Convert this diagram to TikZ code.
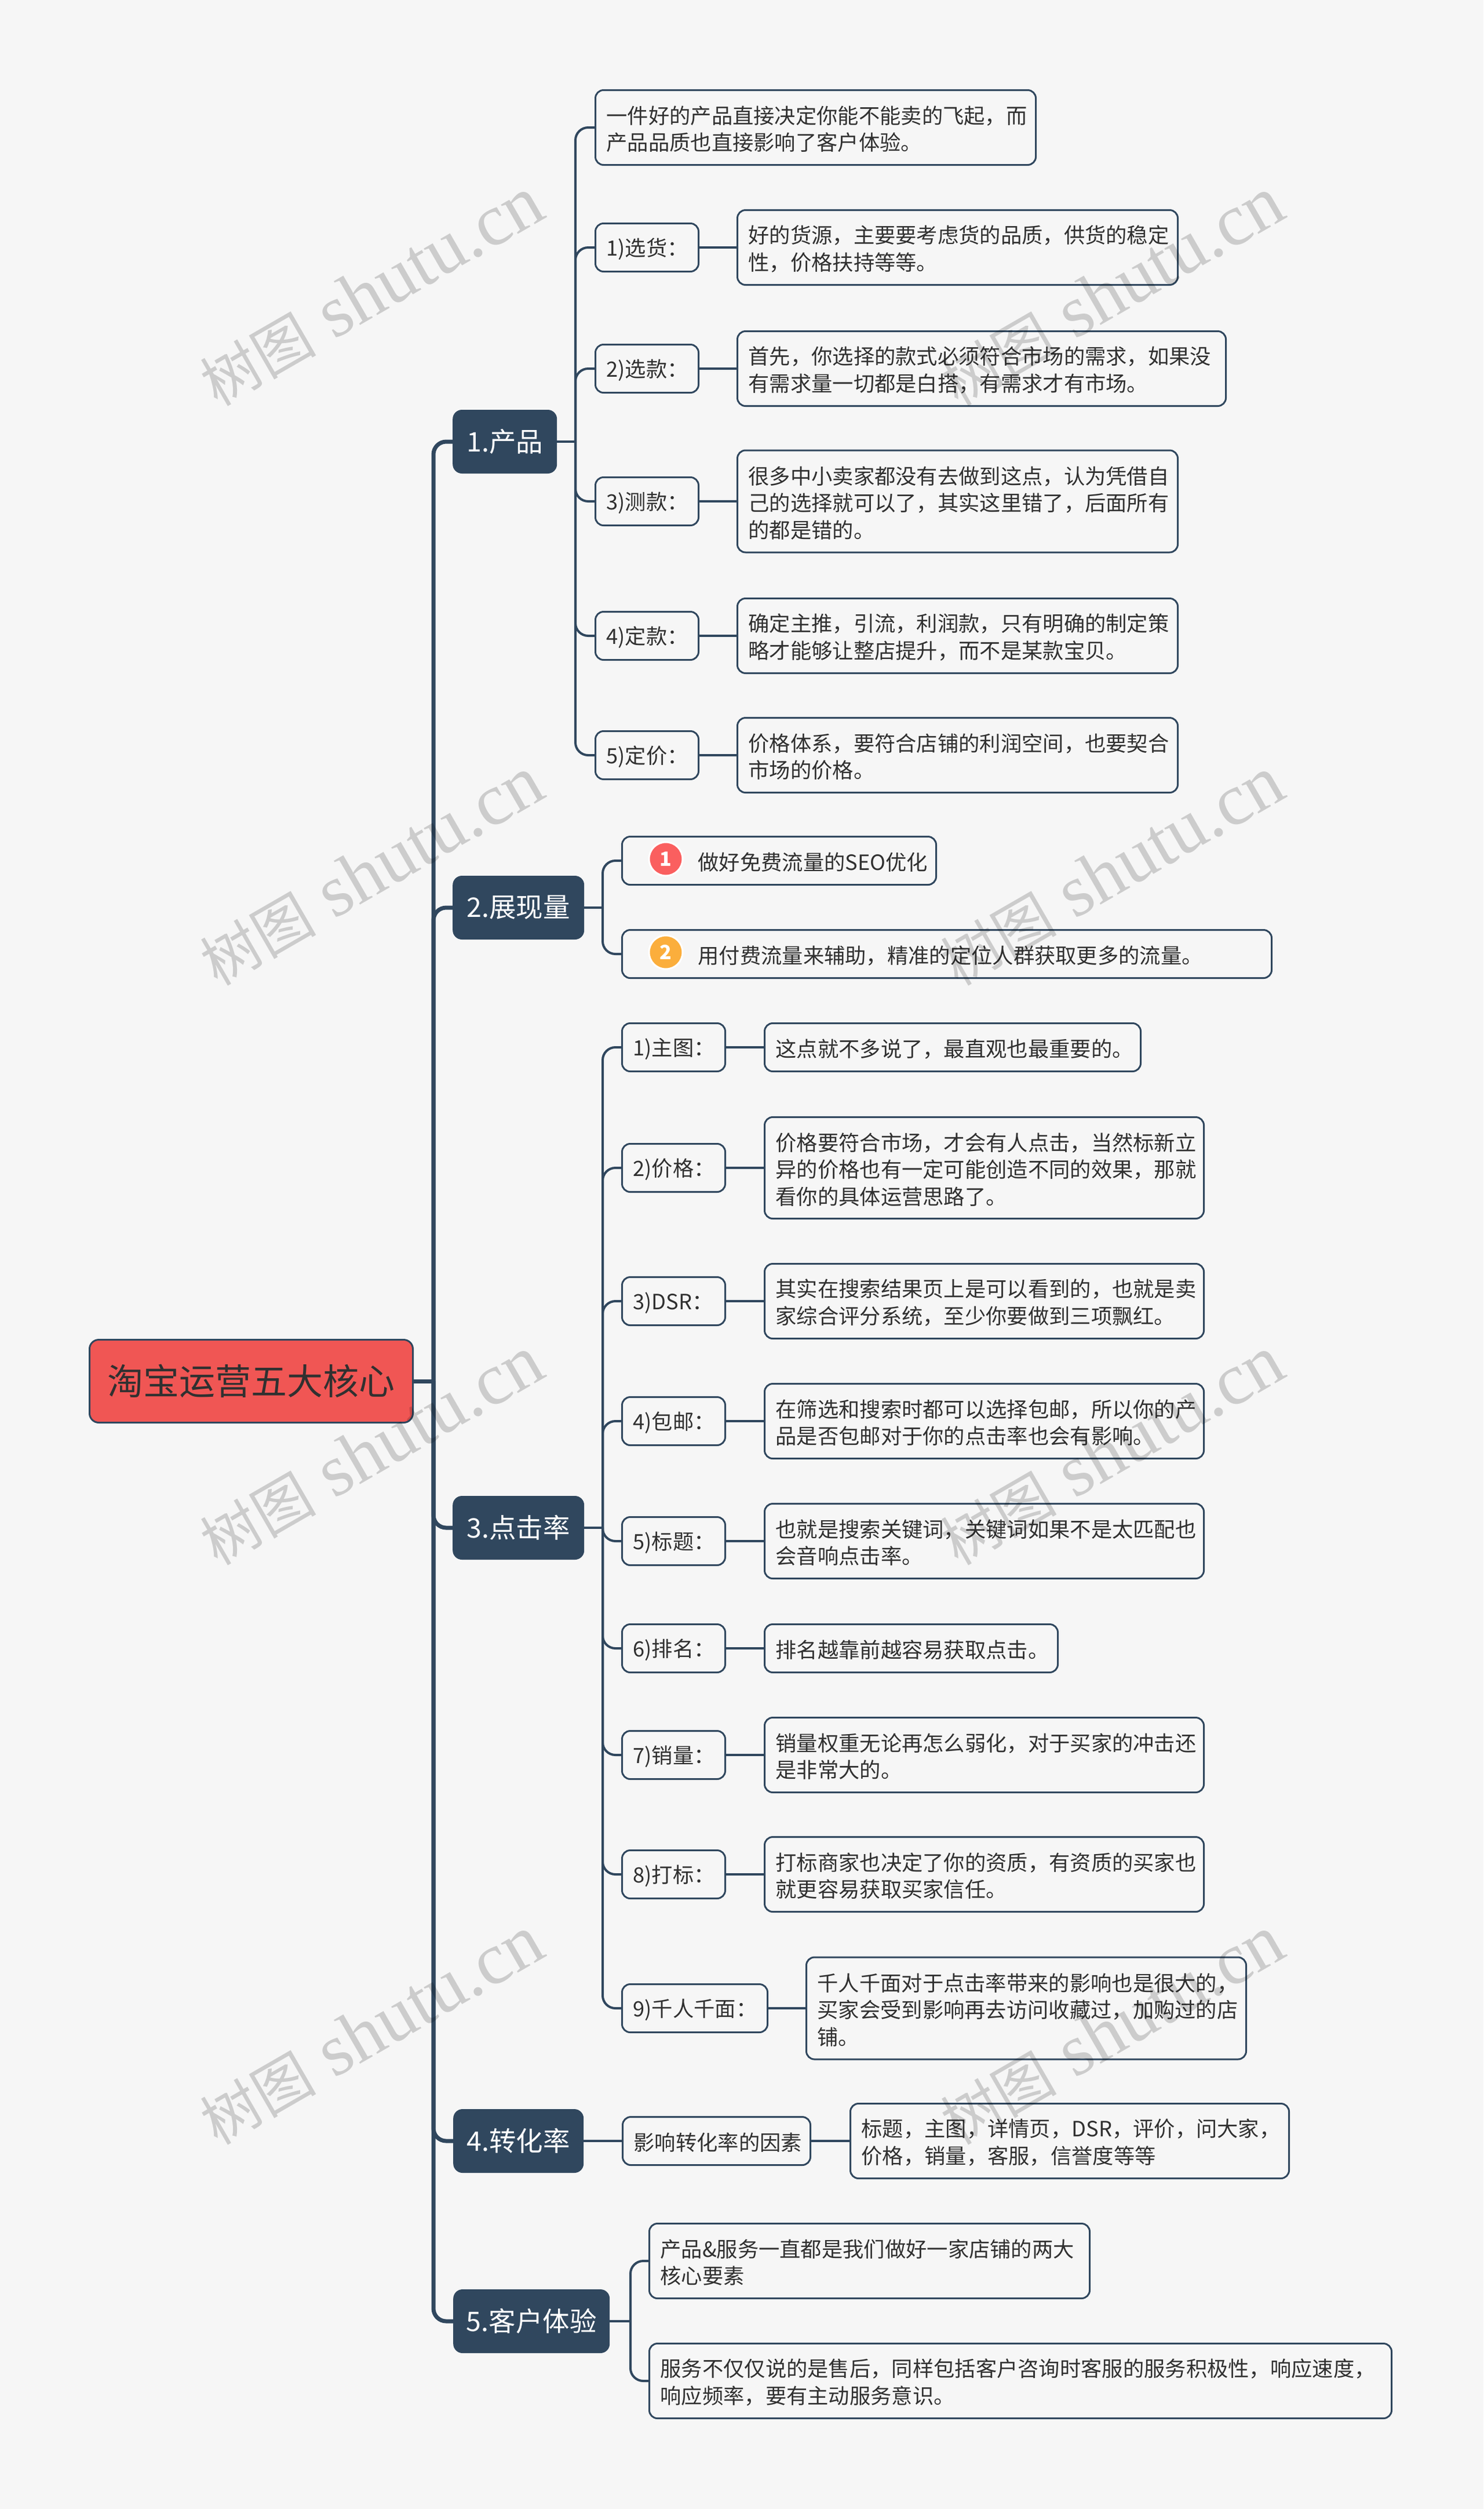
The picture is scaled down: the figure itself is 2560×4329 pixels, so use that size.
\documentclass[tikz,border=0pt]{standalone}
\usepackage{fontspec}
\setmainfont{Noto Sans CJK SC}
\newfontfamily\marklatin{Liberation Serif}
\definecolor{pagebg}{HTML}{F6F6F6}
\definecolor{navy}{HTML}{30475E}
\definecolor{rootred}{HTML}{F05654}
\definecolor{inkgray}{HTML}{303030}
\definecolor{iconred}{HTML}{FA5F5F}
\definecolor{iconorange}{HTML}{FBAE3C}
\tikzset{
	rootbox/.style={draw=navy,line width=3pt,fill=rootred,text=inkgray,rounded corners=16pt,anchor=west,
			inner sep=0pt,minimum width=558pt,minimum height=143pt,font=\fontsize{62pt}{70pt}\selectfont},
	topicbox/.style={fill=navy,text=white,rounded corners=16pt,anchor=west,inner sep=0pt,
			minimum width=#1,minimum height=110pt,font=\fontsize{46.5pt}{54pt}\selectfont},
	leafbox/.style 2 args={draw=navy,line width=3pt,fill=pagebg,text=inkgray,rounded corners=14pt,anchor=west,
			inner xsep=19pt,inner ysep=0pt,text width=#1,minimum height=#2,align=left,
			execute at begin node={\rule{0pt}{36pt}},
			font=\fontsize{36.3pt}{46.5pt}\selectfont},
	iconball/.style={circle,draw=white,line width=3pt,text=white,inner sep=0pt,minimum size=58pt,
			font=\bfseries\fontsize{34pt}{36pt}\selectfont},
	trunk/.style={draw=navy,line width=7pt,rounded corners=22pt},
	twig/.style={draw=navy,line width=4pt,rounded corners=22pt},
	markbox/.style={text=black,opacity=0.167,rotate=30,inner sep=0pt,anchor=base}
}
\begin{document}
\begin{tikzpicture}[x=1pt,y=-1pt]
		\fill[pagebg] (0,0) rectangle (2560,4329);
		\useasboundingbox (0,0) rectangle (2560,4329);

		\node[rootbox] (root) at (153,2383) {淘宝运营五大核心};
		\node[topicbox=180pt] (chan) at (781,762) {1.产品};
		\node[topicbox=227pt] (zhan) at (781,1566) {2.展现量};
		\node[topicbox=227pt] (dian) at (781,2636) {3.点击率};
		\node[topicbox=225pt] (zhuan) at (782,3694) {4.转化率};
		\node[topicbox=270pt] (ke) at (782,4005) {5.客户体验};

		\node[leafbox={722pt}{129pt}] (chan0) at (1026,220) {一件好的产品直接决定你能不能卖的飞起，而\\产品品质也直接影响了客户体验。};
		\node[leafbox={140pt}{83pt}] (chan1) at (1026,427) {1)选货：};
		\node[leafbox={140pt}{83pt}] (chan2) at (1026,636) {2)选款：};
		\node[leafbox={140pt}{83pt}] (chan3) at (1026,865) {3)测款：};
		\node[leafbox={140pt}{83pt}] (chan4) at (1026,1097) {4)定款：};
		\node[leafbox={140pt}{83pt}] (chan5) at (1026,1303) {5)定价：};
		\node[leafbox={722pt}{129pt}] (chan1a) at (1271,427) {好的货源，主要要考虑货的品质，供货的稳定\\性，价格扶持等等。};
		\node[leafbox={805pt}{129pt}] (chan2a) at (1271,636) {首先，你选择的款式必须符合市场的需求，如果没\\有需求量一切都是白搭，有需求才有市场。};
		\node[leafbox={722pt}{176pt}] (chan3a) at (1271,865) {很多中小卖家都没有去做到这点，认为凭借自\\己的选择就可以了，其实这里错了，后面所有\\的都是错的。};
		\node[leafbox={722pt}{129pt}] (chan4a) at (1271,1097) {确定主推，引流，利润款，只有明确的制定策\\略才能够让整店提升，而不是某款宝贝。};
		\node[leafbox={722pt}{129pt}] (chan5a) at (1271,1303) {价格体系，要符合店铺的利润空间，也要契合\\市场的价格。};

		\node[leafbox={504pt}{83pt}] (zhan1) at (1072,1485) {\hspace*{112pt}做好免费流量的SEO优化};
		\node[leafbox={1083pt}{83pt}] (zhan2) at (1072,1646) {\hspace*{112pt}用付费流量来辅助，精准的定位人群获取更多的流量。};
		\node[iconball,fill=iconred] (ball1) at (1149,1482) {1};
		\node[iconball,fill=iconorange] (ball2) at (1149,1643) {2};

		\node[leafbox={140pt}{83pt}] (dian1) at (1072,1807) {1)主图：};
		\node[leafbox={140pt}{83pt}] (dian2) at (1072,2015) {2)价格：};
		\node[leafbox={140pt}{83pt}] (dian3) at (1072,2245) {3)DSR：};
		\node[leafbox={140pt}{83pt}] (dian4) at (1072,2452) {4)包邮：};
		\node[leafbox={140pt}{83pt}] (dian5) at (1072,2659) {5)标题：};
		\node[leafbox={140pt}{83pt}] (dian6) at (1072,2844) {6)排名：};
		\node[leafbox={140pt}{83pt}] (dian7) at (1072,3028) {7)销量：};
		\node[leafbox={140pt}{83pt}] (dian8) at (1072,3234) {8)打标：};
		\node[leafbox={213pt}{83pt}] (dian9) at (1072,3465) {9)千人千面：};
		\node[leafbox={611pt}{83pt}] (dian1a) at (1318,1807) {这点就不多说了，最直观也最重要的。};
		\node[leafbox={720pt}{175pt}] (dian2a) at (1318,2015) {价格要符合市场，才会有人点击，当然标新立\\异的价格也有一定可能创造不同的效果，那就\\看你的具体运营思路了。};
		\node[leafbox={720pt}{129pt}] (dian3a) at (1318,2245) {其实在搜索结果页上是可以看到的，也就是卖\\家综合评分系统，至少你要做到三项飘红。};
		\node[leafbox={720pt}{129pt}] (dian4a) at (1318,2452) {在筛选和搜索时都可以选择包邮，所以你的产\\品是否包邮对于你的点击率也会有影响。};
		\node[leafbox={720pt}{129pt}] (dian5a) at (1318,2659) {也就是搜索关键词，关键词如果不是太匹配也\\会音响点击率。};
		\node[leafbox={468pt}{83pt}] (dian6a) at (1318,2844) {排名越靠前越容易获取点击。};
		\node[leafbox={720pt}{129pt}] (dian7a) at (1318,3028) {销量权重无论再怎么弱化，对于买家的冲击还\\是非常大的。};
		\node[leafbox={720pt}{129pt}] (dian8a) at (1318,3234) {打标商家也决定了你的资质，有资质的买家也\\就更容易获取买家信任。};
		\node[leafbox={721pt}{176pt}] (dian9a) at (1390,3465) {千人千面对于点击率带来的影响也是很大的，\\买家会受到影响再去访问收藏过，加购过的店\\铺。};

		\node[leafbox={286pt}{83pt}] (zhuan1) at (1073,3694) {影响转化率的因素};
		\node[leafbox={719pt}{129pt}] (zhuan1a) at (1466,3694) {标题，主图，详情页，DSR，评价，问大家，\\价格，销量，客服，信誉度等等};

		\node[leafbox={722pt}{129pt}] (ke1) at (1119,3901) {产品\&服务一直都是我们做好一家店铺的两大\\核心要素};
		\node[leafbox={1243pt}{129pt}] (ke2) at (1119,4108) {服务不仅仅说的是售后，同样包括客户咨询时客服的服务积极性，响应速度，\\响应频率，要有主动服务意识。};

		\coordinate (spine) at (748,2383);
		\coordinate (chanfork) at (993,762);
		\coordinate (zhanfork) at (1040,1566);
		\coordinate (dianfork) at (1040,2636);
		\coordinate (kefork) at (1088,4005);

		\draw[trunk] (root.east) -- (spine);
		\draw[twig] (chan.east) -- (chanfork);
		\draw[twig] (zhan.east) -- (zhanfork);
		\draw[twig] (dian.east) -- (dianfork);
		\draw[twig] (ke.east) -- (kefork);
		\draw[twig] (zhuan.east) -- (zhuan1.west);
		\foreach \topic in {chan,zhan,dian,zhuan,ke}
		\draw[trunk] (spine) |- (\topic.west);
		\foreach \leaf in {chan0,chan1,chan2,chan3,chan4,chan5}
		\draw[twig] (chanfork) |- (\leaf.west);
		\foreach \leaf in {zhan1,zhan2}
		\draw[twig] (zhanfork) |- (\leaf.west);
		\foreach \leaf in {dian1,dian2,dian3,dian4,dian5,dian6,dian7,dian8,dian9}
		\draw[twig] (dianfork) |- (\leaf.west);
		\foreach \leaf in {ke1,ke2}
		\draw[twig] (kefork) |- (\leaf.west);
		\foreach \leaf in {chan1,chan2,chan3,chan4,chan5,dian1,dian2,dian3,dian4,dian5,dian6,dian7,dian8,dian9,zhuan1}
		\draw[twig] (\leaf.east) -- (\leaf a.west);

		\foreach \markx in {661,1939}
		\foreach \marky in {538,1538,2538,3538}
		\node[markbox] (mark\markx\marky) at (\markx,\marky) {\fontsize{100pt}{120pt}\selectfont 树图\marklatin\fontsize{127pt}{120pt}\selectfont{} shutu.cn};
	\end{tikzpicture}
\end{document}
